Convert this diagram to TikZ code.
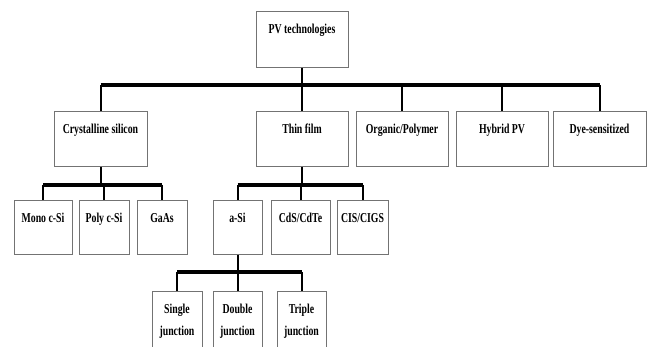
\documentclass[tikz,border=0pt]{standalone}
\usepackage{fontspec}
\setmainfont{Liberation Serif}[FakeStretch=0.72, BoldFeatures={FakeStretch=0.72}]
\usetikzlibrary{positioning}

\begin{document}
\begin{tikzpicture}[x=1pt, y=-1pt, font=\bfseries\fontsize{13.6}{22}\selectfont,
   box/.style={draw=black!55, line width=0.8pt, inner sep=0pt, anchor=north,
               text height=22pt, text depth=33pt},
   twoline/.style={box, align=center, text height=44pt, text depth=16pt},
   bus/.style={line width=3.6pt},
   stem/.style={line width=2pt}]
  \useasboundingbox (0,0) rectangle (647,347);
  \clip (0,0) rectangle (647,347);

  % root
  \node[box, minimum width=92pt, text depth=34pt] (pv) at (302,11) {PV technologies};

  % first level
  \node[box, minimum width=93pt] (crys) at (100.5,111) {Crystalline silicon};
  \node[box, minimum width=92pt] (thin) at (302,111) {Thin film};
  \node[box, minimum width=92pt] (org) at (402,111) {Organic/Polymer};
  \node[box, minimum width=92pt] (hyb) at (502,111) {Hybrid PV};
  \node[box, minimum width=93pt] (dye) at (599.5,111) {Dye-sensitized};

  % crystalline silicon branch
  \node[box, minimum width=58pt, text depth=32pt] (mono) at (43,200) {Mono c-Si};
  \node[box, minimum width=50pt, text depth=32pt] (poly) at (104,200) {Poly c-Si};
  \node[box, minimum width=50pt, text depth=32pt] (gaas) at (162,200) {GaAs};

  % thin film branch
  \node[box, minimum width=49pt, text depth=32pt] (asi) at (237.5,200) {a-Si};
  \node[box, minimum width=59pt, text depth=32pt] (cds) at (300.5,200) {CdS/CdTe};
  \node[box, minimum width=51pt, text depth=32pt] (cis) at (362.5,200) {CIS/CIGS};

  % a-Si branch
  \node[twoline, minimum width=50pt] (single) at (177,291) {Single\\junction};
  \node[twoline, minimum width=49pt] (double) at (237.5,291) {Double\\junction};
  \node[twoline, minimum width=49pt] (triple) at (301.5,291) {Triple\\junction};

  % connectors
  \coordinate (b1) at (302,85);
  \coordinate (b2) at (0,185);
  \coordinate (b3) at (0,272);
  \draw[stem] (pv.south) -- (pv.south |- b1);
  \draw[bus] (crys.north |- b1) -- (dye.north |- b1);
  \foreach \n in {crys,thin,org,hyb,dye}
    \draw[stem] (\n.north |- b1) -- (\n.north);

  \draw[stem] (crys.south) -- (crys.south |- b2);
  \draw[bus] (mono.north |- b2) -- (gaas.north |- b2);
  \foreach \n in {mono,poly,gaas}
    \draw[stem] (\n.north |- b2) -- (\n.north);

  \draw[stem] (thin.south) -- (thin.south |- b2);
  \draw[bus] (asi.north |- b2) -- (cis.north |- b2);
  \foreach \n in {asi,cds,cis}
    \draw[stem] (\n.north |- b2) -- (\n.north);

  \draw[stem] (asi.south) -- (asi.south |- b3);
  \draw[bus] (single.north |- b3) -- (triple.north |- b3);
  \foreach \n in {single,double,triple}
    \draw[stem] (\n.north |- b3) -- (\n.north);
\end{tikzpicture}
\end{document}
